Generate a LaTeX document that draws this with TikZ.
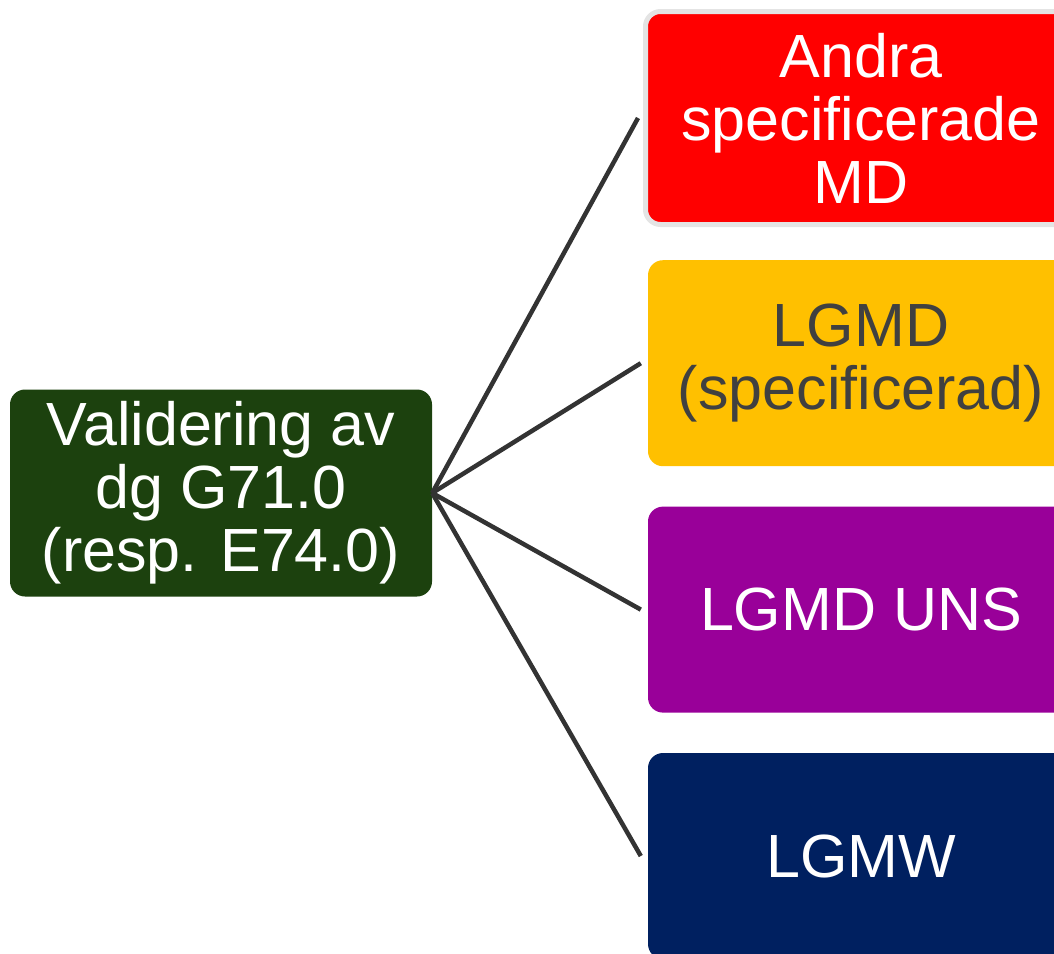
\documentclass[tikz,border=0pt]{standalone}
\usepackage{fontspec}
\setmainfont{Liberation Sans}
\usetikzlibrary{positioning}
\definecolor{rootgreen}{HTML}{1C410E}
\definecolor{mdred}{HTML}{FF0000}
\definecolor{lgmdyellow}{HTML}{FFC000}
\definecolor{unspurple}{HTML}{990099}
\definecolor{lgmwnavy}{HTML}{002060}
\definecolor{ringgray}{HTML}{E4E4E4}
\definecolor{linkgray}{HTML}{333333}
\definecolor{textgray}{HTML}{404040}

\begin{document}
\begin{tikzpicture}[
    x=1pt, y=-1pt,
    node distance=40pt,
    boxfont/.style={font=\fontsize{61}{63}\selectfont},
    rootbox/.style={boxfont, rectangle, rounded corners=15pt, fill=rootgreen,
        text=white, align=center, minimum width=422pt, minimum height=207pt, inner sep=0},
    leafbox/.style={boxfont, rectangle, rounded corners=15pt, text=white,
        align=center, minimum width=426pt, minimum height=206pt, inner sep=0},
    link/.style={draw=linkgray, line width=4.5pt}]
\useasboundingbox (0,0) rectangle (1054,953);

\node[rootbox] (valid) at (221,493) {Validering av\\dg G71.0\\(resp. E74.0)};

\node[leafbox, fill=mdred, draw=ringgray, line width=5pt, minimum width=431pt,
    minimum height=213pt] (andra) at (861,118) {Andra\\specificerade\\MD};
\node[leafbox, fill=lgmdyellow, text=textgray, below=33pt of andra] (lgmd) {LGMD\\(specificerad)};
\node[leafbox, fill=unspurple, below=of lgmd] (uns) {LGMD UNS};
\node[leafbox, fill=lgmwnavy, below=of uns] (lgmw) {LGMW};

\path[link] (valid.east) -- ([xshift=-5pt]andra.west);
\path[link] (valid.east) -- ([xshift=-7pt]lgmd.west);
\path[link] (valid.east) -- ([xshift=-7pt]uns.west);
\path[link] (valid.east) -- ([xshift=-7pt]lgmw.west);

\end{tikzpicture}
\end{document}
